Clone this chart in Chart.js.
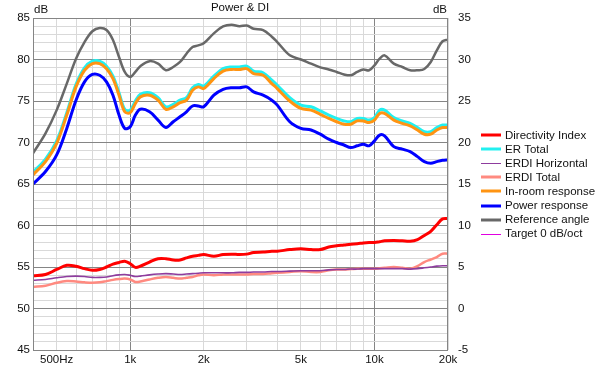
<!DOCTYPE html>
<html>
<head>
<meta charset="utf-8">
<script src="https://cdn.jsdelivr.net/npm/chart.js@4.4.1/dist/chart.umd.min.js"></script>
<style>
  html, body { margin: 0; padding: 0; background: #fff; }
  #wrap { width: 600px; height: 368px; position: relative; }
</style>
</head>
<body>
<div id="wrap"><canvas id="chart"></canvas></div>
<script>
// frequency points (Hz)
const freqs = [400, 450, 500, 550, 600, 650, 700, 750, 800, 850, 900, 950, 1000, 1050, 1100, 1200, 1300, 1400, 1500, 1600, 1700, 1800, 1900, 2000, 2200, 2400, 2600, 2800, 3000, 3200, 3500, 3800, 4000, 4500, 5000, 5500, 6000, 6500, 7000, 7500, 8000, 8500, 9000, 9500, 10000, 10500, 11000, 12000, 13000, 14000, 15000, 16000, 17000, 18000, 19000, 20000];

// left axis, dB SPL
const referenceAngle = [68.7, 71.1, 73.9, 77.1, 80.1, 82.1, 83.4, 83.8, 83.55, 82.35, 80.3, 78.5, 77.9, 78.5, 79.2, 79.8, 79.5, 78.7, 79.1, 79.7, 80.7, 81.5, 81.7, 81.95, 83.15, 84.0, 84.2, 84.0, 84.1, 83.7, 83.55, 82.75, 82.1, 80.5, 80.0, 79.5, 79.05, 78.8, 78.5, 78.2, 78.1, 78.5, 78.8, 78.7, 79.3, 80.1, 80.5, 79.5, 79.1, 78.7, 78.7, 78.85, 79.7, 81.1, 82.2, 82.4];
const inRoom = [66.1, 67.7, 69.9, 73.3, 76.7, 78.7, 79.5, 79.5, 78.9, 77.7, 75.7, 73.7, 73.6, 74.7, 75.5, 75.7, 75.1, 74.0, 74.3, 74.8, 75.1, 76.3, 76.7, 76.5, 77.7, 78.6, 78.8, 78.8, 78.9, 78.3, 78.1, 77.1, 76.5, 75.0, 74.1, 73.9, 73.4, 72.9, 72.5, 72.2, 72.2, 72.6, 72.6, 72.4, 72.7, 73.5, 73.5, 72.7, 72.3, 72.0, 71.5, 71.0, 71.0, 71.5, 71.8, 71.8];
const erTotal = [66.4, 68.0, 70.2, 73.6, 77.0, 79.0, 79.8, 79.8, 79.2, 78.0, 76.0, 74.0, 73.9, 75.0, 75.8, 76.0, 75.4, 74.3, 74.6, 75.1, 75.4, 76.6, 77.0, 76.8, 78.0, 78.9, 79.1, 79.1, 79.2, 78.6, 78.4, 77.5, 76.9, 75.4, 74.5, 74.3, 73.8, 73.3, 72.9, 72.6, 72.5, 72.9, 72.9, 72.7, 73.0, 73.9, 73.9, 73.0, 72.6, 72.3, 71.8, 71.3, 71.3, 71.8, 72.1, 72.1];
const powerResp = [65.0, 66.5, 68.5, 71.7, 75.1, 77.3, 78.2, 78.1, 77.3, 75.7, 73.3, 71.7, 71.9, 73.3, 74.0, 73.7, 72.7, 71.8, 72.5, 73.1, 73.7, 74.4, 74.4, 74.3, 75.7, 76.4, 76.6, 76.6, 76.7, 76.1, 75.7, 75.1, 74.5, 72.5, 71.7, 71.5, 71.0, 70.4, 70.0, 69.7, 69.4, 69.6, 69.8, 69.6, 70.2, 70.9, 70.8, 69.5, 69.2, 68.9, 68.3, 67.7, 67.5, 67.7, 67.85, 67.9];

// right axis, DI dB
const directivity = [3.95, 4.1, 4.7, 5.2, 5.1, 4.8, 4.6, 4.7, 5.0, 5.35, 5.55, 5.7, 5.4, 4.95, 5.1, 5.6, 6.0, 6.0, 5.85, 5.85, 6.1, 6.3, 6.4, 6.5, 6.3, 6.5, 6.55, 6.5, 6.55, 6.75, 6.8, 6.9, 6.9, 7.1, 7.2, 7.1, 7.1, 7.4, 7.55, 7.65, 7.75, 7.8, 7.9, 7.95, 7.95, 8.05, 8.15, 8.2, 8.15, 8.1, 8.3, 8.8, 9.3, 10.1, 10.8, 10.85];
const erdiHoriz = [3.4, 3.5, 3.7, 3.85, 3.9, 3.85, 3.75, 3.75, 3.8, 3.95, 4.05, 4.1, 4.0, 3.85, 3.9, 4.05, 4.15, 4.2, 4.15, 4.1, 4.15, 4.2, 4.25, 4.3, 4.3, 4.3, 4.3, 4.35, 4.35, 4.4, 4.4, 4.45, 4.45, 4.5, 4.55, 4.55, 4.55, 4.65, 4.7, 4.7, 4.75, 4.75, 4.8, 4.8, 4.8, 4.8, 4.8, 4.8, 4.8, 4.75, 4.8, 4.9, 5.0, 5.1, 5.15, 5.15];
const erdiTotal = [2.6, 2.75, 3.1, 3.3, 3.25, 3.15, 3.1, 3.15, 3.3, 3.45, 3.55, 3.6, 3.5, 3.2, 3.25, 3.5, 3.7, 3.8, 3.7, 3.6, 3.7, 3.8, 4.0, 4.1, 4.0, 4.1, 4.1, 4.1, 4.1, 4.15, 4.15, 4.25, 4.3, 4.4, 4.5, 4.4, 4.4, 4.6, 4.7, 4.7, 4.75, 4.8, 4.8, 4.8, 4.8, 4.85, 4.9, 5.0, 4.9, 4.8, 5.1, 5.6, 5.9, 6.2, 6.6, 6.6];
const target = [];

const xGrid = [500, 600, 700, 800, 900, 1000, 2000, 3000, 4000, 5000, 6000, 7000, 8000, 9000, 10000, 20000];
const xLabels = { 500: "500Hz", 1000: "1k", 2000: "2k", 5000: "5k", 10000: "10k", 20000: "20k" };

const FONT = { family: "'Liberation Sans', Arial, sans-serif", size: 11.5 };
const GRID_DARK = "#858585";
const GRID_LIGHT = "#d9d9d9";

function pts(vals) {
  return vals.map((v, i) => ({ x: freqs[i], y: v }));
}

const series = [
  { label: "Directivity Index", data: directivity, color: "#ff0000", width: 3, axis: "y1", order: 1, legendW: 3 },
  { label: "ER Total", data: erTotal, color: "#22f0f0", width: 3, axis: "y", order: 5, legendW: 3 },
  { label: "ERDI Horizontal", data: erdiHoriz, color: "#8e3c9e", width: 1.6, axis: "y1", order: 2, legendW: 1 },
  { label: "ERDI Total", data: erdiTotal, color: "#ff8a80", width: 2.5, axis: "y1", order: 3, legendW: 3 },
  { label: "In-room response", data: inRoom, color: "#ff9412", width: 3, axis: "y", order: 4, legendW: 3 },
  { label: "Power response", data: powerResp, color: "#0000ff", width: 3, axis: "y", order: 6, legendW: 3 },
  { label: "Reference angle", data: referenceAngle, color: "#686868", width: 2.5, axis: "y", order: 7, legendW: 3 },
  { label: "Target 0 dB/oct", data: target, color: "#e000e0", width: 1, axis: "y", order: 8, legendW: 1 },
];

const decor = {
  id: "decor",
  afterDraw(chart) {
    const ctx = chart.ctx;
    const a = chart.chartArea;
    ctx.save();
    // plot frame
    ctx.strokeStyle = GRID_DARK;
    ctx.lineWidth = 1;
    ctx.strokeRect(Math.round(a.left) + 0.5, Math.round(a.top) + 0.5,
      Math.round(a.right - a.left) - 1, Math.round(a.bottom - a.top));
    // title and unit labels
    ctx.fillStyle = "#111";
    ctx.font = `${FONT.size}px ${FONT.family}`;
    ctx.textBaseline = "middle";
    ctx.textAlign = "center";
    ctx.fillText("Power & DI", 240, 8);
    ctx.textAlign = "left";
    ctx.fillText("dB", a.left + 1, 10);
    ctx.textAlign = "right";
    ctx.fillText("dB", a.right - 1, 10);
    // legend
    ctx.textAlign = "left";
    series.forEach((s, i) => {
      const y = 135 + i * 14.1;
      ctx.strokeStyle = s.color;
      ctx.lineWidth = s.legendW;
      ctx.beginPath();
      ctx.moveTo(481, Math.round(y) + (s.legendW === 1 ? 0.5 : 0));
      ctx.lineTo(501, Math.round(y) + (s.legendW === 1 ? 0.5 : 0));
      ctx.stroke();
      ctx.fillStyle = "#111";
      ctx.fillText(s.label, 505, y + 0.5);
    });
    ctx.restore();
  }
};

new Chart(document.getElementById("chart"), {
  type: "line",
  data: {
    datasets: series.map(s => ({
      label: s.label,
      data: pts(s.data),
      yAxisID: s.axis,
      borderColor: s.color,
      backgroundColor: s.color,
      borderWidth: s.width,
      pointRadius: 0,
      tension: 0.35,
      order: s.order,
      fill: false,
    }))
  },
  options: {
    responsive: true,
    maintainAspectRatio: false,
    animation: false,
    events: [],
    layout: { padding: { top: 18, right: 120, bottom: 0, left: 0 } },
    plugins: { legend: { display: false }, tooltip: { enabled: false } },
    scales: {
      x: {
        type: "logarithmic",
        min: 400,
        max: 20000,
        afterBuildTicks: s => { s.ticks = xGrid.map(v => ({ value: v })); },
        afterFit: s => { s.height = 18; },
        ticks: {
          autoSkip: false,
          maxRotation: 0,
          padding: 3,
          color: "#111",
          font: FONT,
          callback: v => xLabels[v] || ""
        },
        grid: {
          drawTicks: false,
          color: c => (c.tick && (c.tick.value === 1000 || c.tick.value === 10000)) ? GRID_DARK : GRID_LIGHT
        },
        border: { display: false }
      },
      y: {
        position: "left",
        min: 45,
        max: 85,
        afterFit: s => { s.width = 33; },
        ticks: {
          stepSize: 1,
          autoSkip: false,
          padding: 3,
          color: "#111",
          font: FONT,
          callback: v => (v % 5 === 0 ? String(v) : "")
        },
        grid: {
          drawTicks: false,
          color: c => (c.tick && c.tick.value % 5 === 0) ? GRID_DARK : GRID_LIGHT
        },
        border: { display: false }
      },
      y1: {
        position: "right",
        min: -5,
        max: 35,
        afterFit: s => { s.width = 32; },
        ticks: { stepSize: 5, padding: 10, color: "#111", font: FONT },
        grid: { display: false, drawTicks: false },
        border: { display: false }
      }
    }
  },
  plugins: [decor]
});
</script>
</body>
</html>
